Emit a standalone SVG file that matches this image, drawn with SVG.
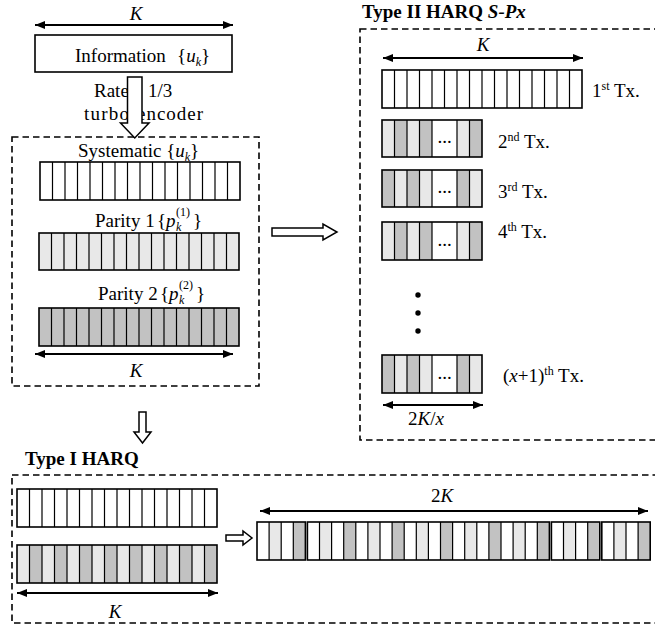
<svg xmlns="http://www.w3.org/2000/svg" width="655" height="625" viewBox="0 0 655 625">
<style>
text{font-family:"Liberation Serif","Times New Roman",serif;font-size:19px;fill:#000}
.i{font-style:italic}
.b{font-weight:bold}
.sub{font-size:12px;font-style:italic}
.sup{font-size:12px}
.bar{stroke:#000;stroke-width:1.6}
.div{stroke:#000;stroke-width:1.2;fill:none}
.w{fill:#fff}
.l{fill:#e8e8e8}
.d{fill:#c2c2c2}
.dash{fill:none;stroke:#000;stroke-width:1.6;stroke-dasharray:6.5 4}
.dim{stroke:#000;stroke-width:2;fill:none;marker-start:url(#ah);marker-end:url(#ah)}
.blk{fill:#fff;stroke:#000;stroke-width:1.5}
</style>
<defs>
<marker id="ah" viewBox="0 0 10 8" refX="10" refY="4" markerWidth="10" markerHeight="8" markerUnits="userSpaceOnUse" orient="auto-start-reverse"><path d="M0,0L10,4L0,8z" fill="#000"/></marker>
</defs>

<g id="containers">
<rect class="dash" x="12" y="137" width="247" height="249"/>
<rect class="dash" x="360" y="29" width="310" height="411"/>
<rect class="dash" x="12" y="475" width="660" height="148"/>
</g>

<g id="information">
<text class="i" x="136" y="20" text-anchor="middle">K</text>
<rect class="bar w" x="35" y="35" width="197" height="37"/>
<text x="75" y="62">Information</text>
<text x="177" y="62">{<tspan class="i">u</tspan><tspan class="sub" dy="4">k</tspan><tspan dy="-4">}</tspan></text>
</g>

<g id="encoder-label">
<text x="94" y="97">Rate</text>
<text x="148" y="97">1/3</text>
<text x="84" y="120" textLength="45" lengthAdjust="spacing">turbo</text>
<text x="137" y="120" textLength="66" lengthAdjust="spacing">encoder</text>
</g>

<g id="systematic">
<text x="78" y="157">Systematic {<tspan class="i">u</tspan><tspan class="sub" dy="4">k</tspan><tspan dy="-4">}</tspan></text>
<rect class="bar w" x="40" y="162" width="200" height="38"/>
<path class="div" d="M52.5,162v38m12.5,-38v38m12.5,-38v38m12.5,-38v38m12.5,-38v38m12.5,-38v38m12.5,-38v38m12.5,-38v38m12.5,-38v38m12.5,-38v38m12.5,-38v38m12.5,-38v38m12.5,-38v38m12.5,-38v38m12.5,-38v38"/>
</g>

<g id="parity1">
<text x="95" y="227">Parity 1</text>
<text x="157" y="227">{</text>
<text class="i" x="166" y="227">p</text>
<text class="sub" x="176" y="231">k</text>
<text class="sup" x="176" y="216">(1)</text>
<text x="193" y="227">}</text>
<rect class="bar l" x="39" y="233" width="200" height="37"/>
<path class="div" d="M51.5,233v37m12.5,-37v37m12.5,-37v37m12.5,-37v37m12.5,-37v37m12.5,-37v37m12.5,-37v37m12.5,-37v37m12.5,-37v37m12.5,-37v37m12.5,-37v37m12.5,-37v37m12.5,-37v37m12.5,-37v37m12.5,-37v37"/>
</g>

<g id="parity2">
<text x="98" y="300">Parity 2</text>
<text x="160" y="300">{</text>
<text class="i" x="169" y="300">p</text>
<text class="sub" x="179" y="304">k</text>
<text class="sup" x="179" y="289">(2)</text>
<text x="196" y="300">}</text>
<rect class="bar d" x="39" y="308" width="200" height="38"/>
<path class="div" d="M51.5,308v38m12.5,-38v38m12.5,-38v38m12.5,-38v38m12.5,-38v38m12.5,-38v38m12.5,-38v38m12.5,-38v38m12.5,-38v38m12.5,-38v38m12.5,-38v38m12.5,-38v38m12.5,-38v38m12.5,-38v38m12.5,-38v38"/>
<text class="i" x="136" y="377" text-anchor="middle">K</text>
</g>

<g id="type2">
<text class="b" x="362" y="18">Type II HARQ <tspan class="i">S-Px</tspan></text>
<text class="i" x="483" y="51" text-anchor="middle">K</text>
</g>

<g id="tx1">
<rect class="bar w" x="382" y="70" width="200" height="38"/>
<path class="div" d="M394.5,70v38m12.5,-38v38m12.5,-38v38m12.5,-38v38m12.5,-38v38m12.5,-38v38m12.5,-38v38m12.5,-38v38m12.5,-38v38m12.5,-38v38m12.5,-38v38m12.5,-38v38m12.5,-38v38m12.5,-38v38m12.5,-38v38"/>
<text x="592" y="97">1<tspan class="sup" dy="-7">st</tspan><tspan dy="7"> Tx.</tspan></text>
</g>

<g id="tx2">
<rect class="w" x="382" y="120" width="100" height="37"/>
<rect class="l" x="382" y="120" width="12.5" height="37"/><rect class="d" x="394.5" y="120" width="12.5" height="37"/>
<rect class="l" x="407" y="120" width="12.5" height="37"/><rect class="d" x="419.5" y="120" width="12.5" height="37"/>
<rect class="l" x="457" y="120" width="12.5" height="37"/><rect class="d" x="469.5" y="120" width="12.5" height="37"/>
<rect class="bar" fill="none" x="382" y="120" width="100" height="37"/>
<path class="div" d="M394.5,120v37m12.5,-37v37m12.5,-37v37m12.5,-37v37m25,-37v37m12.5,-37v37"/>
<text x="444.5" y="143" text-anchor="middle" font-size="14">...</text>
<text x="498" y="148">2<tspan class="sup" dy="-7">nd</tspan><tspan dy="7"> Tx.</tspan></text>
</g>

<g id="tx3">
<rect class="w" x="382" y="170" width="100" height="37"/>
<rect class="d" x="382" y="170" width="12.5" height="37"/><rect class="l" x="394.5" y="170" width="12.5" height="37"/>
<rect class="d" x="407" y="170" width="12.5" height="37"/><rect class="l" x="419.5" y="170" width="12.5" height="37"/>
<rect class="d" x="457" y="170" width="12.5" height="37"/><rect class="l" x="469.5" y="170" width="12.5" height="37"/>
<rect class="bar" fill="none" x="382" y="170" width="100" height="37"/>
<path class="div" d="M394.5,170v37m12.5,-37v37m12.5,-37v37m12.5,-37v37m25,-37v37m12.5,-37v37"/>
<text x="444.5" y="193" text-anchor="middle" font-size="14">...</text>
<text x="498" y="198">3<tspan class="sup" dy="-7">rd</tspan><tspan dy="7"> Tx.</tspan></text>
</g>

<g id="tx4">
<rect class="w" x="382" y="222" width="100" height="38"/>
<rect class="l" x="382" y="222" width="12.5" height="38"/><rect class="d" x="394.5" y="222" width="12.5" height="38"/>
<rect class="l" x="407" y="222" width="12.5" height="38"/><rect class="d" x="419.5" y="222" width="12.5" height="38"/>
<rect class="l" x="457" y="222" width="12.5" height="38"/><rect class="d" x="469.5" y="222" width="12.5" height="38"/>
<rect class="bar" fill="none" x="382" y="222" width="100" height="38"/>
<path class="div" d="M394.5,222v38m12.5,-38v38m12.5,-38v38m12.5,-38v38m25,-38v38m12.5,-38v38"/>
<text x="444.5" y="246" text-anchor="middle" font-size="14">...</text>
<text x="498" y="238">4<tspan class="sup" dy="-7">th</tspan><tspan dy="7"> Tx.</tspan></text>
</g>

<g id="ellipsis">
<circle cx="418" cy="295" r="2.7"/>
<circle cx="418" cy="313" r="2.7"/>
<circle cx="418" cy="331" r="2.7"/>
</g>

<g id="txlast">
<rect class="w" x="382" y="355" width="100" height="38"/>
<rect class="d" x="382" y="355" width="12.5" height="38"/><rect class="l" x="394.5" y="355" width="12.5" height="38"/>
<rect class="d" x="407" y="355" width="12.5" height="38"/><rect class="l" x="419.5" y="355" width="12.5" height="38"/>
<rect class="d" x="457" y="355" width="12.5" height="38"/><rect class="l" x="469.5" y="355" width="12.5" height="38"/>
<rect class="bar" fill="none" x="382" y="355" width="100" height="38"/>
<path class="div" d="M394.5,355v38m12.5,-38v38m12.5,-38v38m12.5,-38v38m25,-38v38m12.5,-38v38"/>
<text x="444.5" y="379" text-anchor="middle" font-size="14">...</text>
<text x="503" y="382">(<tspan class="i">x</tspan>+1)<tspan class="sup" dy="-7">th</tspan><tspan dy="7"> Tx.</tspan></text>
<text x="426" y="425" text-anchor="middle">2<tspan class="i">K</tspan>/<tspan class="i">x</tspan></text>
</g>

<g id="type1">
<text class="b" x="25" y="465">Type I HARQ</text>
<rect class="bar w" x="17" y="489" width="200" height="38"/>
<path class="div" d="M29.5,489v38m12.5,-38v38m12.5,-38v38m12.5,-38v38m12.5,-38v38m12.5,-38v38m12.5,-38v38m12.5,-38v38m12.5,-38v38m12.5,-38v38m12.5,-38v38m12.5,-38v38m12.5,-38v38m12.5,-38v38m12.5,-38v38"/>
<rect class="l" x="17" y="545" width="200" height="38"/>
<rect class="d" x="29.5" y="545" width="12.5" height="38"/><rect class="d" x="54.5" y="545" width="12.5" height="38"/>
<rect class="d" x="79.5" y="545" width="12.5" height="38"/><rect class="d" x="104.5" y="545" width="12.5" height="38"/>
<rect class="d" x="129.5" y="545" width="12.5" height="38"/><rect class="d" x="154.5" y="545" width="12.5" height="38"/>
<rect class="d" x="179.5" y="545" width="12.5" height="38"/><rect class="d" x="204.5" y="545" width="12.5" height="38"/>
<rect class="bar" fill="none" x="17" y="545" width="200" height="38"/>
<path class="div" d="M29.5,545v38m12.5,-38v38m12.5,-38v38m12.5,-38v38m12.5,-38v38m12.5,-38v38m12.5,-38v38m12.5,-38v38m12.5,-38v38m12.5,-38v38m12.5,-38v38m12.5,-38v38m12.5,-38v38m12.5,-38v38m12.5,-38v38"/>
<text class="i" x="115" y="618" text-anchor="middle">K</text>
</g>

<g id="combined">
<text x="442" y="502" text-anchor="middle">2<tspan class="i">K</tspan></text>
<rect class="w" x="257" y="522" width="393" height="38"/>
<g class="l">
<rect x="269.1" y="522" width="12.1" height="38"/>
<rect x="319.5" y="522" width="12.1" height="38"/><rect x="367.9" y="522" width="12.1" height="38"/>
<rect x="416.3" y="522" width="12.1" height="38"/><rect x="464.7" y="522" width="12.1" height="38"/>
<rect x="513.1" y="522" width="12.1" height="38"/>
<rect x="563.5" y="522" width="12.1" height="38"/><rect x="613.9" y="522" width="12.1" height="38"/>
</g>
<g class="d">
<rect x="293.3" y="522" width="12.1" height="38"/>
<rect x="343.7" y="522" width="12.1" height="38"/><rect x="392.1" y="522" width="12.1" height="38"/>
<rect x="440.5" y="522" width="12.1" height="38"/><rect x="488.9" y="522" width="12.1" height="38"/>
<rect x="537.3" y="522" width="12.1" height="38"/>
<rect x="587.7" y="522" width="12.1" height="38"/><rect x="638.1" y="522" width="12.1" height="38"/>
</g>
<rect class="w" x="305.4" y="521" width="2" height="40"/>
<rect class="w" x="549.4" y="521" width="2" height="40"/>
<rect class="w" x="599.8" y="521" width="2" height="40"/>
<g class="bar" fill="none">
<rect x="257" y="522" width="48.4" height="38"/>
<rect x="307.4" y="522" width="242" height="38"/>
<rect x="551.4" y="522" width="48.4" height="38"/>
<rect x="601.8" y="522" width="48.4" height="38"/>
</g>
<path class="div" d="M269.1,522v38M281.2,522v38M293.3,522v38M319.5,522v38M331.6,522v38M343.7,522v38M355.8,522v38M367.9,522v38M380,522v38M392.1,522v38M404.2,522v38M416.3,522v38M428.4,522v38M440.5,522v38M452.6,522v38M464.7,522v38M476.8,522v38M488.9,522v38M501,522v38M513.1,522v38M525.2,522v38M537.3,522v38M563.5,522v38M575.6,522v38M587.7,522v38M613.9,522v38M626,522v38M638.1,522v38"/>
</g>

<g id="connectors">
<line class="dim" x1="35" y1="25" x2="233" y2="25"/>
<line class="dim" x1="35" y1="354" x2="233" y2="354"/>
<line class="dim" x1="383" y1="58" x2="583" y2="58"/>
<line class="dim" x1="383" y1="405" x2="483" y2="405"/>
<line class="dim" x1="17" y1="593" x2="218" y2="593"/>
<line class="dim" x1="260" y1="511" x2="648" y2="511"/>
<polygon class="blk" points="127.5,77 142,77 142,123 149,123 134.75,138 120.5,123 127.5,123"/>
<polygon class="blk" points="272,228 323,228 323,224 337,232 323,240 323,236 272,236"/>
<polygon class="blk" points="139,412 146,412 146,432 151,432 142.5,443 134,432 139,432"/>
<polygon class="blk" points="226,535 243,535 243,531 252,538 243,545 243,541 226,541"/>
</g>
</svg>
